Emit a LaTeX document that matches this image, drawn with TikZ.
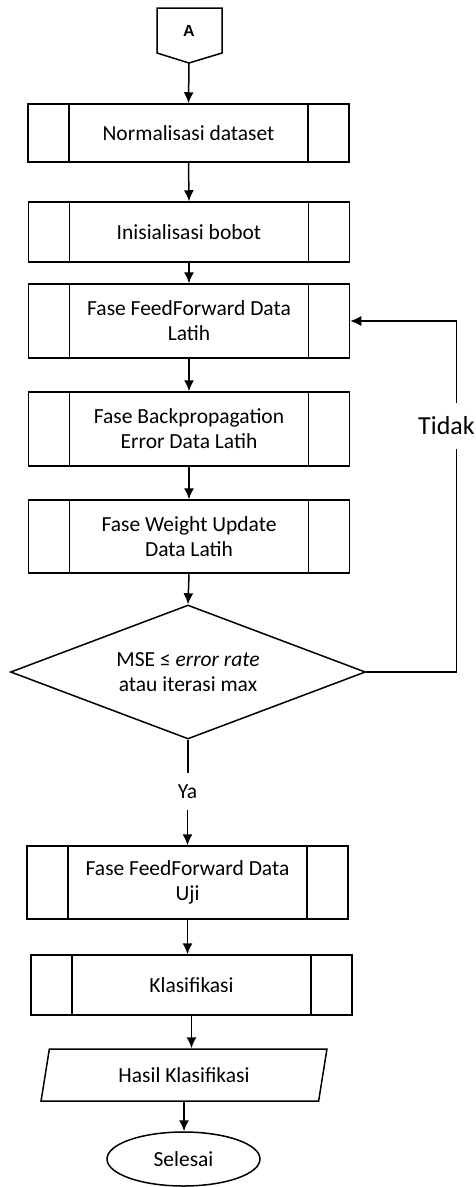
\documentclass[tikz,border=0pt]{standalone}
\usepackage{fontspec}
\setmainfont{Carlito}
\newfontfamily\arialfont{Liberation Sans}
\usetikzlibrary{shapes.geometric,arrows.meta}
\begin{document}
\begin{tikzpicture}[x=1pt,y=-1pt,
  line width=1.5pt,
  every node/.style={font=\fontsize{21.5}{25}\selectfont},
  proc/.style={draw, rectangle, minimum width=321pt, align=center, inner sep=0pt,
    path picture={
      \draw[line width=1.5pt] ([xshift=41pt]path picture bounding box.north west) -- ([xshift=41pt]path picture bounding box.south west);
      \draw[line width=1.5pt] ([xshift=-41pt]path picture bounding box.north east) -- ([xshift=-41pt]path picture bounding box.south east);
    }},
  decision/.style={draw, diamond, aspect=2.65, minimum width=355pt, minimum height=134pt, inner sep=0pt, align=center},
  io/.style={draw, trapezium, trapezium left angle=75, trapezium right angle=105, trapezium stretches=true, minimum width=286pt, minimum height=52pt, inner sep=0pt},
  term/.style={draw, ellipse, minimum width=153pt, minimum height=54pt, inner sep=0pt},
  flow/.style={-{Latex[length=11pt,width=10pt]}},
]
\useasboundingbox (0,0) rectangle (476,1187);
\fill[white] (0,0) rectangle (476,1187);

% off-page connector
\draw (157,8) -- (222,8) -- (222,53) -- (189,63) -- (157,53) -- cycle;
\node[font=\arialfont\bfseries\fontsize{16}{18}\selectfont] (A) at (189,30.5) {A};
\coordinate (Atip) at (189,63);

\node[proc, minimum height=58pt] (b1) at (188.5,133) {Normalisasi dataset};
\node[proc, minimum height=60pt] (b2) at (189,232) {Inisialisasi bobot};
\node[proc, minimum height=74pt] (b3) at (189,321) {Fase FeedForward Data\\Latih};
\node[proc, minimum height=74pt] (b4) at (189,429) {Fase Backpropagation\\Error Data Latih};
\node[proc, minimum height=73pt] (b5) at (189,536.5) {Fase Weight Update\\Data Latih};
\node[decision] (dec) at (188,672) {MSE ≤ \textit{error rate}\\atau iterasi max};
\node[proc, minimum height=73pt] (b6) at (187.5,882.5) {Fase FeedForward Data\\Uji};
\node[proc, minimum height=60pt] (b7) at (191.5,985) {Klasifikasi};
\node[io] (out) at (184,1075) {Hasil Klasifikasi};
\node[term] (end) at (183.5,1159) {Selesai};

\draw[flow] (Atip) -- (b1.north);
\draw[flow] (b1.south) -- (b2.north);
\draw[flow] (b2.south) -- (b3.north);
\draw[flow] (b3.south) -- (b4.north);
\draw[flow] (b4.south) -- (b5.north);
\draw[flow] (b5.south) -- (dec.north);

% loop back
\draw[flow] (dec.east) -- ++(90,0) |- (b3.east);
\node[fill=white, inner xsep=1pt, inner ysep=14pt, font=\fontsize{26}{30}\selectfont] (tidak) at (446.5,426) {Tidak};

% Ya branch
\node[inner xsep=2pt, inner ysep=11pt] (ya) at (187.5,791.5) {Ya};
\draw (dec.south) -- (dec.south |- ya.north);
\draw[flow] (ya.south) -- (ya.south |- b6.north);

\draw[flow] (b6.south) -- (b6.south |- b7.north);
\draw[flow] (b7.south) -- (b7.south |- out.north);
\draw[flow] (out.south) -- (out.south |- end.north);
\end{tikzpicture}
\end{document}
